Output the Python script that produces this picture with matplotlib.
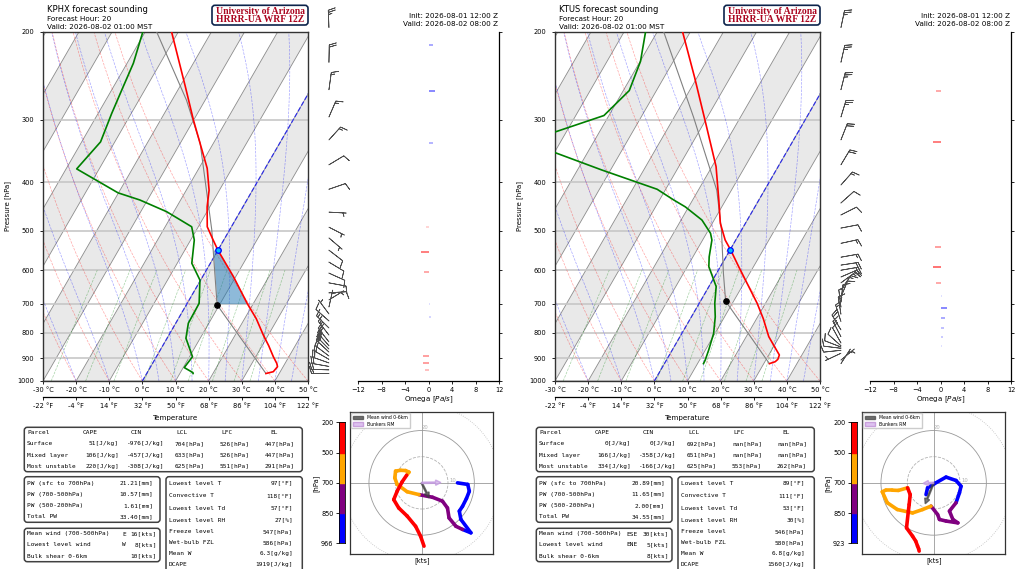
import numpy as np
import matplotlib
matplotlib.use("Agg")
import matplotlib.pyplot as plt
import matplotlib.ticker as mticker
import matplotlib.transforms as mtrans
from matplotlib.patches import FancyBboxPatch, Patch, Circle
from matplotlib.collections import LineCollection

# ---------------- KPHX (left panel) ----------------
phx_t_p = [966, 958, 936, 922, 894, 850, 809, 750, 700, 618, 547, 522, 491, 448, 415, 375, 300, 257, 200]
phx_t = [36.0, 37.9, 38.3, 37.5, 35.3, 32.0, 28.5, 23.5, 18.2, 9.3, 0.0, -3.2, -7.3, -10.8, -13.1, -17.5, -30.1, -38.4, -52.0]
phx_td_p = [966, 962, 940, 894, 821, 766, 699, 628, 581, 522, 491, 458, 434, 420, 376, 332, 291, 257, 231, 200]
phx_td = [14.0, 13.8, 10.3, 10.9, 5.7, 3.8, 3.6, -0.2, -5.6, -8.9, -12.0, -22.2, -32.3, -40.1, -56.8, -54.3, -55.9, -57.1, -58.1, -60.7]
phx_parcel_p = [966, 704, 600, 498, 415, 334, 274, 200]
phx_parcel_t = [36.0, 9.3, 2.5, -5.4, -13.9, -24.0, -35.6, -56.5]
phx_lcl = (704, 9.3)
phx_frz = (547, 0.0)
phx_shade = (700, 547)
phx_wind_p = [966, 950, 935, 920, 905, 891, 875, 863, 850, 835, 809, 783, 758, 734, 711, 688,
              666, 636, 608, 578, 547, 517, 492, 459, 413, 369, 329, 296, 261, 230, 196]
phx_u = [13.6, 17.5, 18.1, 17.0, 15.5, 14.3, 14.9, 18.7, 15.5, 13.0, 10.4, 9.8, 7.9, 4.1, -1.0, -5.5,
         -9.3, -10.2, -9.9, -8.0, -6.1, -4.8, -5.7, -7.4, -9.3, -10.6, -8.7, -5.5, -2.3, -0.4, 0.9]
phx_v = [0.0, -0.6, -3.2, -6.0, -9.0, -10.8, -14.0, -19.1, -17.8, -16.6, -13.4, -9.6, -7.0, -5.5, -4.5, -3.4,
         -0.6, 1.9, 4.5, 4.8, 4.7, 4.1, 2.9, 0.4, -3.2, -6.4, -9.6, -12.7, -16.6, -20.4, -24.2]
phx_omega_p = [212, 262, 333, 491, 552, 606, 701, 744, 782, 890, 922, 951]
phx_omega = [0.8, 1.1, 0.7, -0.4, -1.2, -0.8, 0.3, 0.4, 0.1, -0.9, -0.9, -0.6]
phx_mean_wind = (2.8, -5.7)
phx_bunkers = (7.3, 0.1)
phx_parcel_rows = [
    ["Surface", "51[J/kg]", "-976[J/kg]", "704[hPa]", "526[hPa]", "447[hPa]"],
    ["Mixed layer", "106[J/kg]", "-457[J/kg]", "633[hPa]", "526[hPa]", "447[hPa]"],
    ["Most unstable", "220[J/kg]", "-308[J/kg]", "625[hPa]", "551[hPa]", "291[hPa]"],
]
phx_pw_rows = [["PW (sfc to 700hPa)", "21.21[mm]"], ["PW (700-500hPa)", "10.57[mm]"],
               ["PW (500-200hPa)", "1.61[mm]"], ["Total PW", "33.40[mm]"]]
phx_wind_rows = [["Mean wind (700-500hPa)", "E", "16[kts]"], ["Lowest level wind", "W", "8[kts]"],
                 ["Bulk shear 0-6km", "", "10[kts]"]]
phx_misc_rows = [["Lowest level T", "97[°F]"], ["Convective T", "118[°F]"], ["Lowest level Td", "57[°F]"],
                 ["Lowest level RH", "27[%]"], ["Freeze level", "547[hPa]"], ["Wet-bulb FZL", "586[hPa]"],
                 ["Mean W", "6.3[g/kg]"], ["DCAPE", "1919[J/kg]"]]

# ---------------- KTUS (right panel) ----------------
tus_t_p = [923, 915, 905, 887, 847, 815, 750, 699, 590, 545, 522, 483, 434, 372, 298, 246, 200]
tus_t = [31.7, 33.1, 33.5, 33.2, 29.7, 26.8, 22.0, 17.5, 5.5, 0.0, -3.2, -7.6, -12.1, -18.75, -30.6, -40.9, -52.3]
tus_td_p = [923, 908, 867, 803, 744, 699, 647, 590, 564, 522, 506, 476, 448, 434, 413, 378, 349, 330, 317,
            294, 262, 229, 200]
tus_td = [11.8, 11.7, 11.0, 9.6, 7.2, 4.7, 2.2, -3.5, -5.1, -7.2, -8.8, -13.7, -21.0, -25.7, -32.6, -52.6,
          -69.7, -80.0, -73.3, -61.5, -58.2, -59.9, -63.5]
tus_parcel_p = [923, 692, 609, 498, 415, 296, 200]
tus_parcel_t = [31.7, 7.6, 2.1, -6.1, -14.4, -34.2, -58.0]
tus_lcl = (692, 7.6)
tus_frz = (546, 0.0)
tus_shade = None
tus_wind_p = [923, 908, 895, 880, 868, 860, 855, 850, 839, 815, 790, 760, 735, 711, 695, 679, 657,
              636, 619, 600, 586, 565, 530, 494, 465, 440, 405, 369, 329, 296, 261, 230, 196]
tus_u = [-2.9, -2.3, 0.3, 4.7, 8.5, 10.4, 9.8, 8.5, 6.0, 7.3, 9.2, 4.7, 2.2, 1.5, -1.0, -4.2, -8.0,
         -13.8, -17.6, -19.5, -18.2, -15.7, -13.4, -9.9, -8.9, -9.3, -9.6, -10.3, -8.0, -6.8, -6.1, -5.7, -5.5]
tus_v = [-4.5, -1.9, -0.3, 2.2, 0.9, -1.3, -3.8, -7.6, -10.8, -14.0, -15.3, -14.6, -14.0, -12.1, -8.9, -10.2,
         -11.5, -10.2, -7.6, -3.4, -2.8, -2.8, -2.9, -1.9, -4.5, -8.3, -10.8, -17.2, -20.4, -22.3, -24.2, -25.2, -26.1]
tus_omega_p = [262, 332, 540, 590, 635, 676, 715, 749, 784, 818, 851]
tus_omega = [-0.8, -1.2, -0.9, -1.3, -0.8, 0.3, 1.1, 0.8, 0.6, 0.5, 0.3]
tus_mean_wind = (-3.2, -8.0)
tus_bunkers = (-4.0, -0.2)
tus_parcel_rows = [
    ["Surface", "0[J/kg]", "0[J/kg]", "692[hPa]", "nan[hPa]", "nan[hPa]"],
    ["Mixed layer", "166[J/kg]", "-358[J/kg]", "651[hPa]", "nan[hPa]", "nan[hPa]"],
    ["Most unstable", "334[J/kg]", "-166[J/kg]", "625[hPa]", "553[hPa]", "262[hPa]"],
]
tus_pw_rows = [["PW (sfc to 700hPa)", "20.89[mm]"], ["PW (700-500hPa)", "11.65[mm]"],
               ["PW (500-200hPa)", "2.00[mm]"], ["Total PW", "34.55[mm]"]]
tus_wind_rows = [["Mean wind (700-500hPa)", "ESE", "30[kts]"], ["Lowest level wind", "ENE", "5[kts]"],
                 ["Bulk shear 0-6km", "", "8[kts]"]]
tus_misc_rows = [["Lowest level T", "89[°F]"], ["Convective T", "111[°F]"], ["Lowest level Td", "53[°F]"],
                 ["Lowest level RH", "30[%]"], ["Freeze level", "546[hPa]"], ["Wet-bulb FZL", "580[hPa]"],
                 ["Mean W", "6.8[g/kg]"], ["DCAPE", "1560[J/kg]"]]

header_lines = ["Forecast Hour: 20", "Valid: 2026-08-02 01:00 MST"]
init_lines = ["Init: 2026-08-01 12:00 Z", "Valid: 2026-08-02 08:00 Z"]
parcel_header = ["Parcel", "CAPE", "CIN", "LCL", "LFC", "EL"]
p_levels = list(range(200, 1001, 100))

# ---------------- geometry ----------------
FIG_W, FIG_H = 1024, 569
P_BOT, P_TOP = 1000.0, 200.0
T_MIN, T_MAX = -30.0, 50.0
SX0, SY0, SX1, SY1 = 43, 32, 308, 381
SKEW_K = (np.tan(np.radians(30)) * (SY1 - SY0) / np.log(P_BOT / P_TOP)
          * (T_MAX - T_MIN) / (SX1 - SX0))
MONO = "DejaVu Sans Mono"


def skew(t, p):
    return np.asarray(t, float) + SKEW_K * np.log(P_BOT / np.asarray(p, float))


def moist_lapse(t0_c, p):
    Rd, Cp, Lv, eps = 287.04, 1005.7, 2.501e6, 0.622

    def dtdp(pp, tk):
        es = 6.112 * np.exp(17.67 * (tk - 273.15) / (tk - 29.65))
        rs = eps * es / (pp - es)
        return (Rd * tk + Lv * rs) / (Cp + Lv ** 2 * rs * eps / (Rd * tk ** 2)) / pp

    tk = np.asarray(t0_c, float) + 273.15
    out = [tk]
    for i in range(1, len(p)):
        h = p[i] - p[i - 1]
        k1 = dtdp(p[i - 1], tk)
        k2 = dtdp(p[i - 1] + h / 2, tk + h / 2 * k1)
        k3 = dtdp(p[i - 1] + h / 2, tk + h / 2 * k2)
        k4 = dtdp(p[i], tk + h * k3)
        tk = tk + h / 6 * (k1 + 2 * k2 + 2 * k3 + k4)
        out.append(tk)
    return np.array(out) - 273.15


p_line = np.geomspace(P_BOT, P_TOP, 120)
dry_t0 = np.arange(-30, 51, 10)
dry_lines = (dry_t0 + 273.15)[None, :] * (p_line[:, None] / 1000.0) ** 0.2857 - 273.15
moist_t0 = np.concatenate((np.arange(-30, 0, 10), np.arange(0, 51, 5)))
moist_lines = moist_lapse(moist_t0, p_line)
mix_w = np.array([0.0004, 0.001, 0.002, 0.004, 0.007, 0.01, 0.016, 0.024, 0.032])
p_mix = np.linspace(P_BOT, 600, 60)
e_mix = mix_w[None, :] * p_mix[:, None] / (0.622 + mix_w[None, :])
mix_lines = 243.5 * np.log(e_mix / 6.112) / (17.67 - np.log(e_mix / 6.112))

fig = plt.figure(figsize=(10.24, 5.69), dpi=100)


def add_ax(x0, y0, x1, y1):
    return fig.add_axes([x0 / FIG_W, 1 - y1 / FIG_H, (x1 - x0) / FIG_W, (y1 - y0) / FIG_H])


over = fig.add_axes([0, 0, 1, 1])
over.set_xlim(0, FIG_W)
over.set_ylim(FIG_H, 0)
over.axis("off")


def box(x0, y0, x1, y1, ec="0.25", lw=1.1, r=3):
    over.add_patch(FancyBboxPatch((x0, y0), x1 - x0, y1 - y0,
                                  boxstyle=f"round,pad=0,rounding_size={r}",
                                  fc="white", ec=ec, lw=lw, zorder=1))


def txt(x, y, s, size=4.4, ha="left", family=MONO, **kw):
    over.text(x, y, s, fontsize=size, ha=ha, va="center", family=family, zorder=3, **kw)


def draw_panel(ox, st):
    # ---------- skew-T ----------
    ax = add_ax(ox + SX0, SY0, ox + SX1, SY1)
    ax.set_yscale("log")
    ax.set_ylim(P_BOT, P_TOP)
    ax.set_xlim(T_MIN, T_MAX)
    ax.yaxis.set_major_locator(mticker.FixedLocator(p_levels))
    ax.yaxis.set_major_formatter(mticker.FixedFormatter([str(p) for p in p_levels]))
    ax.yaxis.set_minor_locator(mticker.NullLocator())
    xt = np.arange(-30, 51, 10)
    ax.set_xticks(xt, labels=[f"{t} °C" for t in xt])
    ax.tick_params(labelsize=4.8, length=2.5, pad=2, width=0.6)
    ax.tick_params(axis="y", pad=4)
    for s in ax.spines.values():
        s.set_linewidth(1.0)
        s.set_color("0.2")

    for ta in range(-120, 50, 20):
        ax.fill([ta, ta + 10, skew(ta + 10, P_TOP), skew(ta, P_TOP)], [P_BOT, P_BOT, P_TOP, P_TOP],
                color="0.915", lw=0, zorder=0)
    for t in range(-120, 51, 10):
        ax.plot([t, skew(t, P_TOP)], [P_BOT, P_TOP], color="0.55", lw=0.6, zorder=1)
    for p in p_levels:
        ax.axhline(p, color="0.78", lw=1.2, zorder=1)
    for i in range(dry_lines.shape[1]):
        ax.plot(skew(dry_lines[:, i], p_line), p_line, color="r", ls="--", lw=0.5, alpha=0.35, zorder=2)
    for i in range(moist_lines.shape[1]):
        ax.plot(skew(moist_lines[:, i], p_line), p_line, color="b", ls="--", lw=0.5, alpha=0.35, zorder=2)
    for i in range(mix_lines.shape[1]):
        ax.plot(skew(mix_lines[:, i], p_mix), p_mix, color="g", ls="--", lw=0.5, alpha=0.35, zorder=2)
    ax.plot([0, skew(0, P_TOP)], [P_BOT, P_TOP], color="b", ls="--", lw=0.9, alpha=0.7, zorder=2)

    if st["shade"] is not None:
        pb, pt = st["shade"]
        ps = np.geomspace(pb, pt, 40)
        lp = np.log(ps)
        par = np.interp(lp, np.log(st["parcel_p"][::-1]), st["parcel_t"][::-1])
        env = np.interp(lp, np.log(st["t_p"][::-1]), st["t"][::-1])
        ax.fill_betweenx(ps, skew(par, ps), skew(env, ps), color="tab:blue", alpha=0.5, lw=0, zorder=3)

    ax.plot(skew(st["parcel_t"], st["parcel_p"]), st["parcel_p"], color="0.5", lw=0.8, zorder=4)
    ax.plot(skew(st["t"], st["t_p"]), st["t_p"], color="red", lw=1.2, zorder=5)
    ax.plot(skew(st["td"], st["td_p"]), st["td_p"], color="green", lw=1.2, zorder=5)
    ax.plot(skew(st["lcl"][1], st["lcl"][0]), st["lcl"][0], "o", color="k", ms=3.8, zorder=6)
    ax.plot(skew(st["frz"][1], st["frz"][0]), st["frz"][0], "o", mfc="deepskyblue", mec="blue",
            mew=0.9, ms=4.0, zorder=6)

    sec = ax.secondary_xaxis(-0.045, functions=(lambda c: c * 9 / 5 + 32, lambda f: (f - 32) * 5 / 9))
    ft = xt * 9 / 5 + 32
    sec.set_xticks(ft, labels=[f"{f:.0f} °F" for f in ft])
    sec.tick_params(labelsize=4.8, length=2.5, pad=2, width=0.6)
    sec.spines["bottom"].set_linewidth(0.9)

    trans = mtrans.blended_transform_factory(ax.transAxes, ax.transData)
    wp = np.array(st["wind_p"], float)
    ax.barbs(np.full(wp.size, 1.079), wp, st["u"], st["v"], transform=trans, clip_on=False,
             length=5.0, linewidth=0.55, color="0.3", sizes=dict(emptybarb=0.0), zorder=7)

    # ---------- omega ----------
    oax = add_ax(ox + 358, SY0, ox + 499, SY1)
    oax.patch.set_visible(False)
    oax.set_yscale("log")
    oax.set_ylim(P_BOT, P_TOP)
    oax.set_xlim(-12, 12)
    oax.set_xticks(range(-12, 13, 4))
    oax.yaxis.tick_right()
    oax.yaxis.set_major_locator(mticker.FixedLocator(p_levels))
    oax.yaxis.set_major_formatter(mticker.NullFormatter())
    oax.yaxis.set_minor_locator(mticker.NullLocator())
    oax.spines["left"].set_visible(False)
    oax.spines["top"].set_visible(False)
    for s in ("right", "bottom"):
        oax.spines[s].set_linewidth(0.9)
    oax.tick_params(labelsize=4.8, length=2.5, pad=2, width=0.6)
    om = np.array(st["omega"])
    for p, w in zip(st["omega_p"], om):
        oax.hlines(p, 0, w, color="red" if w < 0 else "blue", lw=1.3,
                   alpha=float(np.clip(abs(w) / 2.2, 0.12, 1.0)))

    # ---------- hodograph ----------
    hax = add_ax(ox + 350, 411.7, ox + 493.3, 554)
    lim = 27.2
    hax.set_xlim(-lim, lim)
    hax.set_ylim(-lim, lim)
    hax.set_xticks([])
    hax.set_yticks([])
    for s in hax.spines.values():
        s.set_linewidth(0.9)
        s.set_color("0.2")
    for r, ls, c in [(10, "--", "0.7"), (20, "-", "0.6"), (30, ":", "0.75")]:
        hax.add_patch(Circle((0, 0), r, fill=False, ls=ls, ec=c, lw=0.6))
    hax.axhline(0, color="0.6", lw=0.6)
    hax.axvline(0, color="0.6", lw=0.6)
    hax.text(11.7, 0.9, "10", fontsize=3.8, color="0.7", ha="center", va="center")
    hax.text(1.1, 21.3, "20", fontsize=3.8, color="0.7", ha="center", va="center")
    u = np.array(st["u"])
    v = np.array(st["v"])
    pts = np.column_stack([u, v])
    segs = np.stack([pts[:-1], pts[1:]], axis=1)
    pm = 0.5 * (wp[:-1] + wp[1:])
    cols = np.where(pm <= 500, "red", np.where(pm <= 700, "orange", np.where(pm <= 850, "purple", "blue")))
    hax.add_collection(LineCollection(segs, colors=list(cols), lw=2.6, capstyle="round", zorder=4))
    mu, mv = st["mean_wind"]
    hax.arrow(0, 0, mu, mv, width=0.5, head_width=2.0, head_length=2.0, length_includes_head=True,
              fc="0.25", ec="0.25", alpha=0.7, zorder=5)
    bu, bv = st["bunkers"]
    hax.arrow(0, 0, bu, bv, width=0.5, head_width=2.0, head_length=2.0, length_includes_head=True,
              fc="#d2b2ea", ec="#c39ae0", alpha=0.8, zorder=5)
    hax.legend(handles=[Patch(fc="0.3", ec="0.3", alpha=0.8, label="Mean wind 0-6km"),
                        Patch(fc="#ddc2f0", ec="#c9a0dc", label="Bunkers RM")],
               loc="upper left", fontsize=3.3, handlelength=2.2, handleheight=0.8,
               borderpad=0.4, labelspacing=0.35, framealpha=1, edgecolor="0.8",
               borderaxespad=0.3, fancybox=False)

    # ---------- colour bar ----------
    cax = add_ax(ox + 339, 422.3, ox + 345, 543.3)
    cax.set_xlim(0, 1)
    cax.set_ylim(0, 4)
    for i, c in enumerate(["blue", "purple", "orange", "red"]):
        cax.axhspan(i, i + 1, color=c)
    cax.set_xticks([])
    cax.set_yticks(range(5), labels=[str(st["wind_p"][0]), "850", "700", "500", "200"])
    cax.tick_params(labelsize=4.7, length=2.5, pad=1.5, width=0.6)
    for s in cax.spines.values():
        s.set_linewidth(0.6)

    # ---------- texts ----------
    txt(ox + 46.7, 9, f"{st['name']} forecast sounding", size=6, family="DejaVu Sans")
    txt(ox + 46.7, 19.3, header_lines[0], size=5.2, family="DejaVu Sans")
    txt(ox + 46.7, 26.7, header_lines[1], size=5.2, family="DejaVu Sans")
    txt(ox + 498.3, 15.7, init_lines[0], size=5.2, ha="right", family="DejaVu Sans")
    txt(ox + 498.3, 24, init_lines[1], size=5.2, ha="right", family="DejaVu Sans")
    box(ox + 212, 5.3, ox + 308, 25, ec="#0C234B", lw=1.2, r=3)
    txt(ox + 260, 11.2, "University of Arizona", size=6.9, ha="center", family="Liberation Serif",
        weight="bold", color="#AB0520")
    txt(ox + 260, 19.8, "HRRR-UA WRF 12Z", size=6.9, ha="center", family="Liberation Serif",
        weight="bold", color="#AB0520")
    over.text(ox + 7.5, 206, "Pressure [hPa]", fontsize=5, rotation=90, ha="center", va="center")
    txt(ox + 175.5, 418, "Temperature", size=5.1, ha="center", family="DejaVu Sans")
    txt(ox + 428.5, 400, "Omega [$Pa/s$]", size=5.1, ha="center", family="DejaVu Sans")
    over.text(ox + 316, 483, "[hPa]", fontsize=4.8, rotation=90, ha="center", va="center")
    txt(ox + 421.7, 561, "[kts]", size=4.9, ha="center", family="DejaVu Sans")

    # parcel table
    box(ox + 24.3, 427.3, ox + 302.3, 471.7)
    row_y = [432.3, 443.7, 455, 466.3]
    head_x = [27, 83, 131, 176, 221, 270]
    val_x = [119, 164, 205, 250, 295]
    for hx, h in zip(head_x, parcel_header):
        txt(ox + hx, row_y[0], h)
    for y, row in zip(row_y[1:], st["parcel_rows"]):
        txt(ox + 27, y, row[0])
        for vx, val in zip(val_x, row[1:]):
            txt(ox + vx, y, val, ha="right")
    # precipitable water
    box(ox + 24.3, 476.7, ox + 160, 522.3)
    for y, (lab, val) in zip([483.3, 494.3, 505.7, 516.7], st["pw_rows"]):
        txt(ox + 27, y, lab)
        txt(ox + 153, y, val, ha="right")
    # winds
    box(ox + 24.3, 528.3, ox + 160, 561.7)
    for y, (lab, d, val) in zip([534, 545, 556], st["wind_rows"]):
        txt(ox + 27, y, lab)
        txt(ox + 126, y, d, ha="right")
        txt(ox + 157, y, val, ha="right")
    # misc
    box(ox + 166, 476.7, ox + 302.3, 580)
    for y, (lab, val) in zip([483.3, 495.7, 508.3, 520, 531.7, 542.7, 553.3, 564.3], st["misc_rows"]):
        txt(ox + 169, y, lab)
        txt(ox + 293, y, val, ha="right")


phx = dict(name="KPHX", t_p=phx_t_p, t=phx_t, td_p=phx_td_p, td=phx_td, parcel_p=phx_parcel_p,
           parcel_t=phx_parcel_t, lcl=phx_lcl, frz=phx_frz, shade=phx_shade, wind_p=phx_wind_p,
           u=phx_u, v=phx_v, omega_p=phx_omega_p, omega=phx_omega, mean_wind=phx_mean_wind,
           bunkers=phx_bunkers, parcel_rows=phx_parcel_rows, pw_rows=phx_pw_rows,
           wind_rows=phx_wind_rows, misc_rows=phx_misc_rows)
tus = dict(name="KTUS", t_p=tus_t_p, t=tus_t, td_p=tus_td_p, td=tus_td, parcel_p=tus_parcel_p,
           parcel_t=tus_parcel_t, lcl=tus_lcl, frz=tus_frz, shade=tus_shade, wind_p=tus_wind_p,
           u=tus_u, v=tus_v, omega_p=tus_omega_p, omega=tus_omega, mean_wind=tus_mean_wind,
           bunkers=tus_bunkers, parcel_rows=tus_parcel_rows, pw_rows=tus_pw_rows,
           wind_rows=tus_wind_rows, misc_rows=tus_misc_rows)

draw_panel(0, phx)
draw_panel(512, tus)

fig.savefig("out.png", dpi=100, facecolor="white")
